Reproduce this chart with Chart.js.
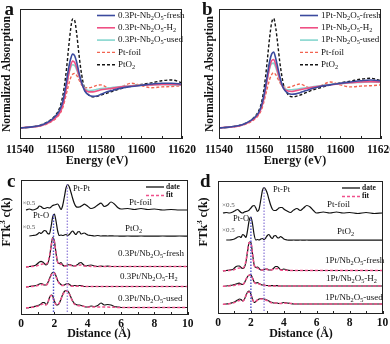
<!DOCTYPE html>
<html>
<head>
<meta charset="utf-8">
<script src="https://cdn.jsdelivr.net/npm/chart.js@4.4.0/dist/chart.umd.min.js"></script>
<style>
html,body{margin:0;padding:0;background:#fff;width:390px;height:344px;overflow:hidden;position:relative}
canvas{position:absolute}
</style>
</head>
<body>
<canvas id="pa" width="200" height="172" style="left:0;top:0"></canvas>
<canvas id="pb" width="200" height="172" style="left:199px;top:0"></canvas>
<canvas id="pc" width="200" height="172" style="left:0;top:172px"></canvas>
<canvas id="pd" width="200" height="172" style="left:197px;top:172px"></canvas>
<script>
const FF = '"Liberation Serif","Times New Roman",Times,serif';
Chart.defaults.font.family = FF;
Chart.defaults.color = '#111';

// ---------- Pt L3-edge XANES ----------
const energy = [11540,11545,11550,11553,11555,11557,11559,11560,11561,11562,11563,11564,11565,11566,11567,11568,11569,11570,11571,11572,11574,11576,11578,11580,11583,11586,11590,11595,11600,11605,11610,11615,11620];

// 0.3Pt-Nb2O5 series and references
const a03Fresh = [0.00,0.02,0.06,0.12,0.18,0.26,0.38,0.48,0.62,0.85,1.15,1.45,1.68,1.80,1.76,1.60,1.38,1.18,1.02,0.90,0.80,0.77,0.78,0.82,0.88,0.92,0.97,1.01,1.04,1.07,1.09,1.09,1.07];
const a03H2    = [0.00,0.02,0.05,0.10,0.15,0.22,0.32,0.40,0.52,0.72,1.00,1.30,1.52,1.63,1.60,1.47,1.30,1.14,1.02,0.94,0.88,0.88,0.90,0.93,0.95,0.97,1.00,1.02,1.04,1.05,1.06,1.06,1.05];
const a03Used  = [0.00,0.02,0.06,0.11,0.17,0.24,0.35,0.44,0.57,0.77,1.04,1.30,1.47,1.54,1.52,1.42,1.28,1.14,1.04,0.97,0.91,0.92,0.94,0.96,0.97,0.99,1.01,1.03,1.04,1.05,1.06,1.05,1.04];
const aPtFoil  = [0.00,0.02,0.05,0.09,0.14,0.20,0.30,0.37,0.48,0.65,0.85,1.05,1.22,1.31,1.33,1.28,1.19,1.09,1.02,0.99,0.98,1.00,1.04,1.05,0.99,0.94,1.00,1.09,1.03,0.98,1.00,1.01,1.03];
const aPtO2    = [0.00,0.02,0.07,0.13,0.19,0.28,0.42,0.55,0.75,1.05,1.45,1.95,2.40,2.66,2.62,2.30,1.85,1.45,1.15,0.95,0.80,0.76,0.77,0.80,0.85,0.90,0.96,1.02,1.06,1.10,1.15,1.17,1.10];

// 1Pt-Nb2O5 series and references
const b1Fresh  = [0.00,0.02,0.06,0.11,0.16,0.23,0.33,0.42,0.55,0.75,1.02,1.33,1.62,1.80,1.85,1.70,1.48,1.26,1.08,0.95,0.85,0.82,0.83,0.86,0.91,0.96,1.01,1.05,1.09,1.12,1.15,1.17,1.15];
const b1H2     = [0.00,0.02,0.05,0.10,0.15,0.21,0.30,0.38,0.50,0.68,0.93,1.22,1.48,1.64,1.67,1.55,1.37,1.19,1.05,0.96,0.90,0.89,0.91,0.93,0.96,0.99,1.02,1.05,1.08,1.10,1.12,1.13,1.12];
const b1Used   = [0.00,0.02,0.06,0.11,0.16,0.22,0.32,0.40,0.52,0.70,0.95,1.23,1.45,1.57,1.58,1.48,1.33,1.17,1.05,0.98,0.93,0.93,0.94,0.96,0.98,1.00,1.03,1.06,1.08,1.10,1.11,1.12,1.11];
const bPtFoil  = [0.00,0.02,0.05,0.09,0.13,0.19,0.28,0.35,0.45,0.60,0.80,1.00,1.18,1.30,1.35,1.30,1.21,1.11,1.04,1.00,0.99,1.01,1.05,1.07,1.01,0.96,1.02,1.12,1.05,1.00,1.02,1.03,1.05];
const bPtO2    = [0.00,0.02,0.06,0.11,0.16,0.24,0.36,0.46,0.62,0.88,1.25,1.72,2.20,2.56,2.67,2.45,2.05,1.62,1.28,1.03,0.82,0.76,0.77,0.80,0.86,0.92,0.98,1.05,1.10,1.14,1.19,1.21,1.15];

// ---------- FT-EXAFS (R space) ----------
const rData = [0.3,0.5,0.7,0.9,1.0,1.1,1.2,1.3,1.4,1.5, 1.6,1.7,1.8,1.9,2.0,2.1,2.2,2.3,2.4,2.5, 2.6,2.7,2.8,2.9,3.0,3.1,3.2,3.3,3.4,3.5, 3.6,3.7,3.8,3.9,4.0,4.2,4.4,4.6,4.8,5.0, 5.2,5.4,5.6,5.8,6.0,6.4,6.8,7.2,7.6,8.0, 8.5,9.0,9.5,10.0];
const rFit  = [0.3,0.6,0.9,1.1,1.3,1.4,1.5,1.6,1.7,1.8, 1.9,2.0,2.1,2.2,2.3,2.4,2.5,2.6,2.7,2.8, 2.9,3.0,3.1,3.2,3.4,3.6,3.8,4.0,4.5,5.0, 6.0,7.0,8.0,9.0,10.0];

// panel c: 0.3Pt/Nb2O5
const cFoil  = [0.10,0.20,0.10,0.20,0.30,0.50,0.45,0.30,0.25,0.30, 0.35,0.30,0.40,0.55,0.60,0.65,0.70,0.45,0.15,0.55, 1.40,2.30,2.65,2.40,1.85,1.25,0.75,0.45,0.38,0.40, 0.48,0.58,0.68,0.60,0.48,0.25,0.35,0.60,0.78,0.45, 0.60,0.90,0.70,0.35,0.20,0.25,0.15,0.25,0.15,0.20, 0.10,0.15,0.10,0.10];
const cPtO2  = [null,0.10,0.15,0.20,0.30,0.45,0.35,0.50,0.65,0.60, 0.35,0.30,1.00,2.00,2.30,1.60,0.60,0.15,0.20,0.15, 0.20,0.25,0.15,0.25,0.45,0.60,0.40,0.25,0.50,0.55, 0.30,0.35,0.40,0.30,0.20,0.15,0.10,0.15,0.10,0.12, 0.10,0.12,0.10,0.10,0.08,0.10,0.08,0.10,0.08,0.08, 0.10,0.08,0.10,0.08];
const cFresh = [0.00,0.05,0.10,0.20,0.35,0.50,0.57,0.50,0.35,0.22, 0.35,0.90,2.00,2.95,2.60,1.40,0.45,0.35,0.45,0.20, 0.10,0.15,0.20,0.25,0.20,0.12,0.10,0.15,0.25,0.40, 0.45,0.30,0.15,0.10,0.15,0.20,0.10,0.05,0.08,0.05, 0.08,0.05,0.05,0.05,0.05,0.05,0.05,0.05,0.05,0.05, 0.05,0.05,0.05,0.05];
const cH2    = [0.00,0.05,0.10,0.15,0.20,0.30,0.35,0.30,0.20,0.20, 0.40,0.80,1.20,1.45,1.45,1.10,0.65,0.40,0.25,0.15, 0.20,0.30,0.35,0.25,0.15,0.10,0.15,0.15,0.10,0.15, 0.15,0.10,0.05,0.05,0.05,0.05,0.05,0.05,0.05,0.05, 0.05,0.05,0.05,0.05,0.05,0.05,0.05,0.05,0.05,0.05, 0.05,0.05,0.05,0.05];
const cUsed  = [0.00,0.05,0.10,0.20,0.25,0.30,0.40,0.55,0.55,0.35, 0.50,1.00,1.30,1.20,0.70,0.35,0.30,0.50,0.90,1.35, 1.65,1.75,1.70,1.45,1.05,0.70,0.45,0.35,0.30,0.30, 0.25,0.20,0.15,0.10,0.10,0.20,0.15,0.25,0.50,0.30, 0.35,0.30,0.15,0.10,0.05,0.05,0.05,0.05,0.05,0.05, 0.05,0.05,0.05,0.05];
const cFitFresh = [0.02,0.05,0.10,0.20,0.30,0.30,0.30,0.45,1.00,2.00, 2.85,2.55,1.40,0.50,0.25,0.30,0.20,0.10,0.10,0.15, 0.20,0.15,0.10,0.10,0.15,0.20,0.10,0.08,0.05,0.05, 0.05,0.05,0.05,0.05,0.05];
const cFitH2    = [0.02,0.05,0.10,0.20,0.25,0.20,0.20,0.35,0.75,1.15, 1.40,1.40,1.05,0.60,0.35,0.20,0.15,0.20,0.25,0.25, 0.20,0.10,0.08,0.08,0.08,0.08,0.05,0.05,0.05,0.05, 0.05,0.05,0.05,0.05,0.05];
const cFitUsed  = [0.02,0.05,0.15,0.25,0.40,0.40,0.30,0.50,0.95,1.25, 1.10,0.65,0.35,0.30,0.50,0.90,1.30,1.60,1.70,1.65, 1.40,1.00,0.65,0.40,0.25,0.20,0.15,0.10,0.10,0.10, 0.05,0.05,0.05,0.05,0.05];
const cOffsets = { foil: 10.4, pto2: 7.8, fresh: 4.8, h2: 2.8, used: 0.7 };

// panel d: 1Pt/Nb2O5
const dFoil  = [0.10,0.15,0.10,0.20,0.30,0.40,0.45,0.30,0.15,0.10, 0.20,0.25,0.30,0.40,0.60,0.80,0.85,0.60,0.25,0.50, 1.40,2.35,2.65,2.45,2.05,1.45,0.90,0.50,0.35,0.35, 0.45,0.60,0.65,0.65,0.50,0.30,0.15,0.40,0.55,0.35, 0.60,0.85,0.70,0.35,0.10,0.20,0.10,0.20,0.10,0.15, 0.05,0.15,0.05,0.10];
const dPtO2  = [null,0.10,0.10,0.15,0.20,0.30,0.40,0.45,0.35,0.65, 0.55,0.35,1.10,2.10,2.40,1.70,0.60,0.10,0.15,0.10, 0.20,0.25,0.15,0.30,0.55,0.65,0.40,0.25,0.50,0.55, 0.35,0.30,0.45,0.35,0.20,0.10,0.08,0.10,0.08,0.10, 0.08,0.10,0.08,0.08,0.08,0.08,0.08,0.08,0.08,0.08, 0.08,0.08,0.08,0.08];
const dFresh = [0.00,0.05,0.10,0.15,0.30,0.45,0.50,0.50,0.35,0.25, 0.35,0.90,2.00,2.90,2.85,1.70,0.60,0.35,0.40,0.25, 0.10,0.10,0.15,0.20,0.20,0.10,0.10,0.15,0.30,0.45, 0.45,0.30,0.15,0.15,0.20,0.10,0.05,0.05,0.05,0.05, 0.05,0.05,0.05,0.05,0.05,0.05,0.05,0.05,0.05,0.05, 0.05,0.05,0.05,0.05];
const dH2    = [0.00,0.05,0.10,0.15,0.20,0.25,0.30,0.33,0.25,0.20, 0.35,0.70,1.00,1.15,1.15,0.85,0.45,0.35,0.38,0.30, 0.20,0.15,0.15,0.10,0.10,0.08,0.08,0.08,0.08,0.08, 0.08,0.05,0.05,0.05,0.05,0.05,0.05,0.05,0.05,0.05, 0.05,0.05,0.05,0.05,0.05,0.05,0.05,0.05,0.05,0.05, 0.05,0.05,0.05,0.05];
const dUsed  = [0.00,0.05,0.10,0.20,0.25,0.35,0.45,0.55,0.50,0.35, 0.50,0.90,1.25,1.33,1.05,0.50,0.20,0.30,0.45,0.55, 0.60,0.60,0.55,0.50,0.43,0.35,0.25,0.20,0.15,0.15, 0.15,0.10,0.10,0.15,0.20,0.15,0.10,0.05,0.05,0.05, 0.05,0.05,0.05,0.05,0.05,0.05,0.05,0.05,0.05,0.05, 0.05,0.05,0.05,0.05];
const dFitFresh = [0.02,0.05,0.10,0.20,0.30,0.30,0.30,0.45,1.00,2.00, 2.85,2.80,1.70,0.60,0.30,0.30,0.20,0.10,0.10,0.15, 0.20,0.15,0.10,0.10,0.20,0.25,0.10,0.08,0.05,0.05, 0.05,0.05,0.05,0.05,0.05];
const dFitH2    = [0.02,0.05,0.10,0.15,0.20,0.20,0.20,0.35,0.70,1.00, 1.12,1.10,0.80,0.45,0.30,0.30,0.25,0.20,0.15,0.12, 0.10,0.08,0.06,0.05,0.05,0.05,0.05,0.05,0.05,0.05, 0.05,0.05,0.05,0.05,0.05];
const dFitUsed  = [0.02,0.05,0.15,0.25,0.40,0.40,0.35,0.50,0.90,1.20, 1.25,0.95,0.50,0.25,0.30,0.45,0.50,0.55,0.55,0.50, 0.45,0.38,0.30,0.20,0.15,0.15,0.10,0.15,0.10,0.05, 0.05,0.05,0.05,0.05,0.05];
const dOffsets = { foil: 10.0, pto2: 7.3, fresh: 4.3, h2: 2.75, used: 0.95 };

// Pt-O and Pt-Pt bond distances marked by dotted guides
const cBondR = [1.95, 2.78];
const dBondR = [2.0, 2.8];
const guideBase = 0.3;

// ---------- styles ----------
const C_FRESH = '#3b4a9e', C_H2 = '#ef4f84', C_USED = '#86d6cf', C_FOIL = '#f26450', C_PTO2 = '#151515';
const C_DATA = '#111111', C_FIT = '#f0508c', C_GUIDE1 = '#5050c8', C_GUIDE2 = '#9a88dc';

function xy(xs, ys, off) {
  return xs.map((x, i) => ({ x, y: ys[i] == null ? null : ys[i] + (off || 0) }));
}
function peak(ys) { return Math.max(...ys.filter(v => v != null)); }

function richText(ctx, str, x, y, size, weight, align) {
  const runs = [];
  let i = 0;
  while (i < str.length) {
    const c = str[i];
    if ((c === '_' || c === '^') && i + 1 < str.length) { runs.push({ t: str[i + 1], k: c }); i += 2; continue; }
    if (runs.length && runs[runs.length - 1].k === '') runs[runs.length - 1].t += c;
    else runs.push({ t: c, k: '' });
    i++;
  }
  const fontFor = k => `${weight} ${k ? size * 0.7 : size}px ${FF}`;
  let total = 0;
  for (const r of runs) { ctx.font = fontFor(r.k); r.w = ctx.measureText(r.t).width; total += r.w; }
  let cx = align === 'center' ? x - total / 2 : (align === 'right' ? x - total : x);
  ctx.textAlign = 'left';
  ctx.textBaseline = 'middle';
  for (const r of runs) {
    ctx.font = fontFor(r.k);
    const dy = r.k === '_' ? size * 0.3 : (r.k === '^' ? -size * 0.32 : 0);
    ctx.fillText(r.t, cx, y + dy);
    cx += r.w;
  }
}

// frame, inward ticks, titles, legend and labels
const decoPlugin = {
  id: 'deco',
  afterDraw(chart, args, o) {
    const ctx = chart.ctx, ca = chart.chartArea, xs = chart.scales.x;
    ctx.save();
    ctx.strokeStyle = '#222';
    ctx.lineWidth = 1;
    const L = Math.round(ca.left), T = Math.round(ca.top), R = Math.round(ca.right), B = Math.round(ca.bottom);
    ctx.strokeRect(L + 0.5, T + 0.5, R - L - 1, B - T - 1);
    ctx.beginPath();
    for (let v = xs.min; v <= xs.max + 1e-9; v += o.minorStep) {
      const px = Math.round(xs.getPixelForValue(v)) + 0.5;
      ctx.moveTo(px, B); ctx.lineTo(px, B - 3);
    }
    ctx.stroke();

    ctx.fillStyle = '#111';
    // panel letter
    ctx.font = `bold 19px ${FF}`;
    ctx.textAlign = 'left'; ctx.textBaseline = 'alphabetic';
    ctx.fillText(o.letter[0], o.letter[1], o.letter[2]);
    // x title
    ctx.font = `bold 12px ${FF}`;
    ctx.textAlign = 'center';
    ctx.fillText(o.xTitle[0], o.xTitle[1], o.xTitle[2]);
    // y title
    ctx.save();
    ctx.translate(o.yTitle[1], o.yTitle[2]);
    ctx.rotate(-Math.PI / 2);
    richText(ctx, o.yTitle[0], 0, 0, o.yTitle[3], 'bold', 'center');
    ctx.restore();

    // legend
    const lg = o.legend;
    lg.items.forEach((it, k) => {
      const y = T + lg.y + k * lg.dy;
      ctx.save();
      ctx.strokeStyle = it.color;
      ctx.lineWidth = it.width || 1.5;
      ctx.setLineDash(it.dash || []);
      ctx.beginPath();
      ctx.moveTo(L + lg.x, y); ctx.lineTo(L + lg.x + lg.len, y);
      ctx.stroke();
      ctx.restore();
      ctx.fillStyle = '#111';
      richText(ctx, it.label, L + lg.x + lg.len + lg.gap, y, lg.size, lg.weight || 'normal', 'left');
    });

    // curve labels
    (o.notes || []).forEach(n => {
      ctx.fillStyle = n.color || '#111';
      richText(ctx, n.text, L + n.x, T + n.y, n.size, 'normal', 'left');
    });
    ctx.restore();
  }
};

function buildChart(id, datasets, sc, deco) {
  return new Chart(document.getElementById(id), {
    type: 'line',
    data: { datasets },
    options: {
      responsive: false, animation: false, devicePixelRatio: 1,
      layout: { padding: sc.pad },
      elements: { point: { radius: 0 } },
      plugins: { legend: { display: false }, tooltip: { enabled: false }, deco },
      scales: {
        x: {
          type: 'linear', min: sc.xmin, max: sc.xmax,
          ticks: { stepSize: sc.step, font: { size: 11.5, weight: 'bold' }, color: '#111', padding: sc.tickPad, maxRotation: 0, autoSkip: false, callback: v => String(v) },
          grid: { display: false, drawTicks: false }, border: { display: false },
          afterFit: s => { s.height = sc.xH; }
        },
        y: {
          type: 'linear', min: sc.ymin, max: sc.ymax,
          ticks: { display: false }, grid: { display: false, drawTicks: false }, border: { display: false },
          afterFit: s => { s.width = sc.yW; }
        }
      }
    },
    plugins: [decoPlugin]
  });
}

function xanesSets(fresh, h2, used, foil, pto2) {
  const base = { fill: false, pointRadius: 0, cubicInterpolationMode: 'monotone' };
  return [
    { ...base, label: 'fresh', data: xy(energy, fresh), borderColor: C_FRESH, borderWidth: 1.6 },
    { ...base, label: 'H2', data: xy(energy, h2), borderColor: C_H2, borderWidth: 1.6 },
    { ...base, label: 'used', data: xy(energy, used), borderColor: C_USED, borderWidth: 1.6 },
    { ...base, label: 'Pt-foil', data: xy(energy, foil), borderColor: C_FOIL, borderWidth: 1.4, borderDash: [3, 2] },
    { ...base, label: 'PtO2', data: xy(energy, pto2), borderColor: C_PTO2, borderWidth: 1.4, borderDash: [3, 2] }
  ];
}

function xanesLegend(prefix, x) {
  return {
    x, y: 6.5, dy: 12.3, len: 18, gap: 3, size: 9,
    items: [
      { label: prefix + '-Nb_2O_5-fresh', color: C_FRESH, width: 1.6 },
      { label: prefix + '-Nb_2O_5-H_2', color: C_H2, width: 1.6 },
      { label: prefix + '-Nb_2O_5-used', color: C_USED, width: 1.6 },
      { label: 'Pt-foil', color: C_FOIL, width: 1.4, dash: [3, 2] },
      { label: 'PtO_2', color: C_PTO2, width: 1.4, dash: [3, 2] }
    ]
  };
}

function exafsSets(off, foil, pto2, fresh, h2, used, fFresh, fH2, fUsed, bondR) {
  const base = { fill: false, pointRadius: 0, cubicInterpolationMode: 'monotone' };
  const data = { ...base, borderColor: C_DATA, borderWidth: 1.2 };
  const fit = { ...base, borderColor: C_FIT, borderWidth: 1.5, borderDash: [3, 2] };
  const guide = { fill: false, pointRadius: 0, borderWidth: 1.4, borderDash: [1.5, 1.5] };
  return [
    { ...guide, label: 'Pt-O', borderColor: C_GUIDE1, data: [{ x: bondR[0], y: guideBase }, { x: bondR[0], y: off.pto2 + peak(pto2) }] },
    { ...guide, label: 'Pt-Pt', borderColor: C_GUIDE2, data: [{ x: bondR[1], y: guideBase }, { x: bondR[1], y: off.foil + peak(foil) }] },
    { ...fit, label: 'fit fresh', data: xy(rFit, fFresh, off.fresh) },
    { ...fit, label: 'fit H2', data: xy(rFit, fH2, off.h2) },
    { ...fit, label: 'fit used', data: xy(rFit, fUsed, off.used) },
    { ...data, label: 'Pt-foil', data: xy(rData, foil, off.foil) },
    { ...data, label: 'PtO2', data: xy(rData, pto2, off.pto2) },
    { ...data, label: 'fresh', data: xy(rData, fresh, off.fresh) },
    { ...data, label: 'H2', data: xy(rData, h2, off.h2) },
    { ...data, label: 'used', data: xy(rData, used, off.used) }
  ];
}

function exafsLegend(x) {
  return {
    x, y: 7, dy: 8.5, len: 18, gap: 2, size: 7.5, weight: 'bold',
    items: [
      { label: 'date', color: C_DATA, width: 1.3 },
      { label: 'fit', color: C_FIT, width: 1.5, dash: [3, 2] }
    ]
  };
}

// (a)
buildChart('pa', xanesSets(a03Fresh, a03H2, a03Used, aPtFoil, aPtO2),
  { xmin: 11540, xmax: 11620, step: 20, ymin: -0.27, ymax: 2.9, pad: { top: 9, right: 15, left: 0, bottom: 0 }, xH: 33, yW: 20, tickPad: 4 },
  { minorStep: 10, letter: ['a', 4.5, 15], xTitle: ['Energy (eV)', 97, 164], yTitle: ['Normalized Absorption', 7, 74, 11.5],
    legend: xanesLegend('0.3Pt', 77) });

// (b)
buildChart('pb', xanesSets(b1Fresh, b1H2, b1Used, bPtFoil, bPtO2),
  { xmin: 11540, xmax: 11620, step: 20, ymin: -0.27, ymax: 2.9, pad: { top: 9, right: 16, left: 0, bottom: 0 }, xH: 33, yW: 20, tickPad: 4 },
  { minorStep: 10, letter: ['b', 3, 15], xTitle: ['Energy (eV)', 96, 164], yTitle: ['Normalized Absorption', 11.5, 74, 11.5],
    legend: xanesLegend('1Pt', 81) });

// (c)
buildChart('pc', exafsSets(cOffsets, cFoil, cPtO2, cFresh, cH2, cUsed, cFitFresh, cFitH2, cFitUsed, cBondR),
  { xmin: 0, xmax: 10, step: 2, ymin: 0, ymax: 13.5, pad: { top: 8, right: 12.3, left: 0, bottom: 0 }, xH: 29, yW: 21, tickPad: 2 },
  { minorStep: 1, letter: ['c', 7, 15], xTitle: ['Distance (\u00C5)', 99, 165], yTitle: ['FTk^3 c(k)', 7, 50, 12],
    legend: exafsLegend(125),
    notes: [
      { text: '\u00D70.5', x: 1.5, y: 23, size: 7, color: '#555' },
      { text: '\u00D70.5', x: 1.5, y: 47, size: 7, color: '#555' },
      { text: 'Pt-Pt', x: 52, y: 9, size: 8.5 },
      { text: 'Pt-O', x: 12, y: 36, size: 8.5 },
      { text: 'Pt-foil', x: 108, y: 23, size: 9 },
      { text: 'PtO_2', x: 104, y: 49, size: 9 },
      { text: '0.3Pt/Nb_2O_5-fresh', x: 97, y: 74, size: 9 },
      { text: '0.3Pt/Nb_2O_5-H_2', x: 99, y: 97, size: 9 },
      { text: '0.3Pt/Nb_2O_5-used', x: 97, y: 119, size: 9 }
    ] });

// (d)
buildChart('pd', exafsSets(dOffsets, dFoil, dPtO2, dFresh, dH2, dUsed, dFitFresh, dFitH2, dFitUsed, dBondR),
  { xmin: 0, xmax: 10, step: 2, ymin: 0, ymax: 13.3, pad: { top: 9, right: 14.5, left: 0, bottom: 0 }, xH: 30, yW: 21, tickPad: 2 },
  { minorStep: 1, letter: ['d', 3, 15], xTitle: ['Distance (\u00C5)', 104, 165], yTitle: ['FTk^3 c(k)', 7, 50, 12],
    legend: exafsLegend(124),
    notes: [
      { text: '\u00D70.5', x: 4, y: 24, size: 7, color: '#555' },
      { text: '\u00D70.5', x: 4, y: 49, size: 7, color: '#555' },
      { text: 'Pt-Pt', x: 55, y: 9, size: 8.5 },
      { text: 'Pt-O', x: 15, y: 38, size: 8.5 },
      { text: 'Pt-foil', x: 109, y: 24, size: 9 },
      { text: 'PtO_2', x: 119, y: 51, size: 9 },
      { text: '1Pt/Nb_2O_5-fresh', x: 107, y: 80, size: 9 },
      { text: '1Pt/Nb_2O_5-H_2', x: 108, y: 98, size: 9 },
      { text: '1Pt/Nb_2O_5-used', x: 107, y: 117, size: 9 }
    ] });
</script>
</body>
</html>
